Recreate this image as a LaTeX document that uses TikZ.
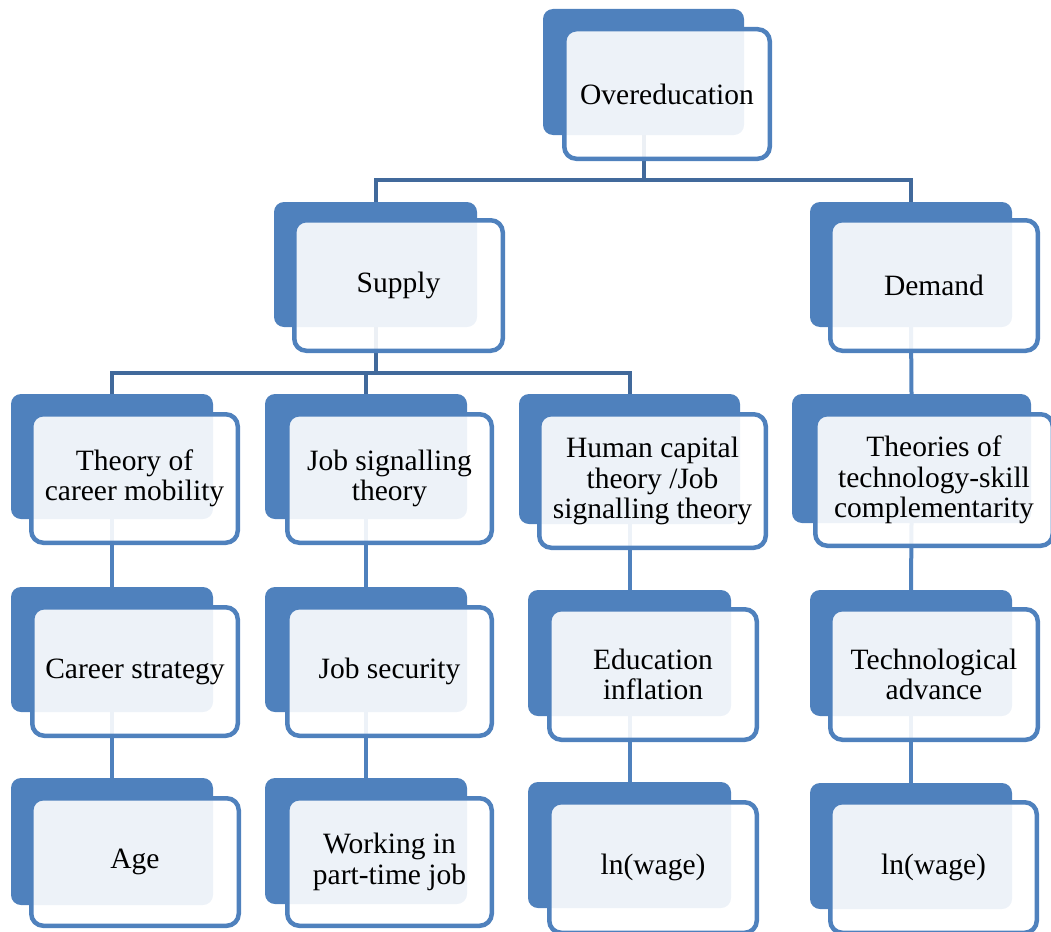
\documentclass[tikz,border=0pt]{standalone}
\usepackage{fontspec}
\setmainfont{Liberation Serif}
\definecolor{boxblue}{HTML}{4F81BD}
\definecolor{darkconn}{HTML}{41699B}
\tikzset{
  backbox/.style={fill=boxblue, draw=none, rounded corners=10pt, inner sep=0pt},
  frontbox/.style={fill=white, fill opacity=0.9, text opacity=1, draw=boxblue, draw opacity=1,
     line width=4.5pt, rounded corners=12pt, inner sep=0pt, align=center,
     font=\fontsize{29.5}{30.5}\selectfont},
  conn/.style={draw=darkconn, line width=4pt},
  conn2/.style={draw=boxblue, line width=4pt}
}
\newcommand\backpair[5]{%
  \node[backbox, minimum width={(#4-#2)*1pt}, minimum height={(#5-#3)*1pt}]
    (#1) at ({(#2+#4)/2},{(#3+#5)/2}) {};}
\newcommand\frontpair[6]{%
  \node[frontbox, minimum width={(#4-#2-4.5)*1pt}, minimum height={(#5-#3-4.5)*1pt}]
    (#1) at ({(#2+#4)/2},{(#3+#5)/2}) {#6};}
\begin{document}
\begin{tikzpicture}[x=1pt,y=-1pt]
\useasboundingbox (0,0) rectangle (1051,931);
% back boxes
\backpair{over-b}{543}{9}{744}{135}
\backpair{supply-b}{274}{202}{477}{327}
\backpair{demand-b}{810}{202}{1012}{327}
\backpair{tcm-b}{11}{394}{213}{519}
\backpair{jst-b}{265}{394}{467}{519}
\backpair{hct-b}{519}{394}{740}{524}
\backpair{tsc-b}{792}{394}{1031}{523}
\backpair{cs-b}{11}{587}{213}{712}
\backpair{js-b}{265}{587}{467}{712}
\backpair{ei-b}{528}{590}{731}{716}
\backpair{ta-b}{810}{590}{1012}{716}
\backpair{age-b}{11}{778}{213}{905}
\backpair{wpt-b}{265}{778}{467}{904}
\backpair{lw1-b}{528}{782}{731}{908}
\backpair{lw2-b}{810}{783}{1012}{909}
% connectors
\coordinate (j1) at (643.5,180);
\coordinate (j2) at (375.5,373);
\draw[conn] (over-b.south) -- (j1);
\draw[conn] (supply-b.north) |- (j1) -| (demand-b.north);
\draw[conn] (supply-b.south) -- (j2);
\draw[conn] (tcm-b.north) |- (j2) -| (hct-b.north);
\draw[conn] (jst-b.north) -- (jst-b.north |- j2);
\draw[conn2] (demand-b.south) -- (tsc-b.north);
\draw[conn2] (tcm-b.south) -- (cs-b.north);
\draw[conn2] (cs-b.south) -- (age-b.north);
\draw[conn2] (jst-b.south) -- (js-b.north);
\draw[conn2] (js-b.south) -- (wpt-b.north);
\draw[conn2] (hct-b.south) -- (ei-b.north);
\draw[conn2] (ei-b.south) -- (lw1-b.north);
\draw[conn2] (tsc-b.south) -- (ta-b.north);
\draw[conn2] (ta-b.south) -- (lw2-b.north);
% front boxes
\frontpair{over}{562}{27}{772}{161}{Overeducation}
\frontpair{supply}{292}{218}{505}{353}{Supply}
\frontpair{demand}{828}{218}{1040}{353}{Demand}
\frontpair{tcm}{29}{412}{240}{545}{Theory of\\career mobility}
\frontpair{jst}{285}{412}{494}{545}{Job signalling\\theory}
\frontpair{hct}{537}{412}{768}{550}{Human capital\\theory /Job\\signalling theory}
\frontpair{tsc}{813}{412}{1055}{548}{Theories of\\technology-skill\\complementarity}
\frontpair{cs}{30}{605}{240}{738}{Career strategy}
\frontpair{js}{285}{605}{494}{738}{Job security}
\frontpair{ei}{547}{607}{759}{742}{Education\\inflation}
\frontpair{ta}{828}{607}{1040}{742}{Technological\\advance}
\frontpair{age}{29}{796}{241}{928}{Age}
\frontpair{wpt}{285}{796}{494}{928}{Working in\\part-time job}
\frontpair{lw1}{547}{800}{759}{935}{ln(wage)}
\frontpair{lw2}{828}{800}{1039}{935}{ln(wage)}
\end{tikzpicture}
\end{document}
